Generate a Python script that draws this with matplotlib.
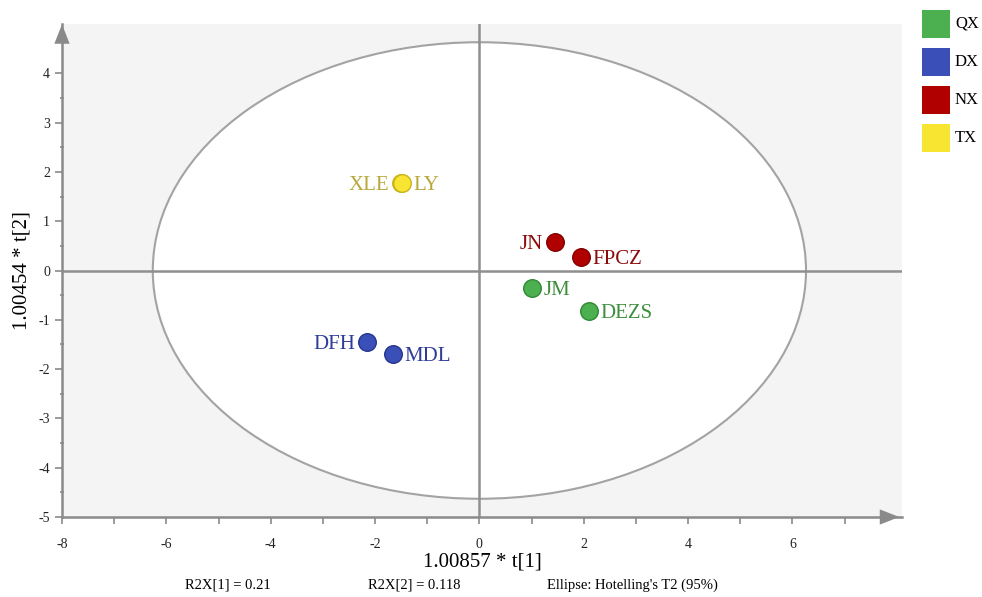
import matplotlib
matplotlib.use("Agg")
import matplotlib.pyplot as plt
from matplotlib.patches import Ellipse, Rectangle

plt.rcParams['font.family'] = ['Liberation Serif', 'DejaVu Serif']
plt.rcParams['axes.unicode_minus'] = False

# Score data (t[1], t[2]) per sample
names  = ['XLE', 'LY', 'JN', 'FPCZ', 'JM', 'DEZS', 'DFH', 'MDL']
groups = ['TX', 'TX', 'NX', 'NX', 'QX', 'QX', 'DX', 'DX']
t1     = [-1.50, -1.49, 1.44, 1.94, 1.01, 2.10, -2.15, -1.65]
t2     = [1.77, 1.78, 0.57, 0.28, -0.36, -0.83, -1.46, -1.70]
label_side = ['left', 'right', 'left', 'right', 'right', 'right', 'left', 'right']

group_order  = ['QX', 'DX', 'NX', 'TX']
marker_color = {'QX': '#4caf50', 'DX': '#3a4fb8', 'NX': '#b00000', 'TX': '#f7e531'}
edge_color   = {'QX': '#2f8a35', 'DX': '#27358f', 'NX': '#850000', 'TX': '#c9b51c'}
text_color   = {'QX': '#3d8f3d', 'DX': '#2f3d99', 'NX': '#8b0a0a', 'TX': '#b8a83a'}

# Hotelling's T2 (95%) ellipse semi-axes
ell_a, ell_b = 6.26, 4.63

r2x = [0.21, 0.118]

fig = plt.figure(figsize=(9.82, 5.97), dpi=100)
ax = fig.add_axes([62 / 982, 80 / 597, 840 / 982, 493 / 597])
ax.set_xlim(-8, 8.1)
ax.set_ylim(-5, 5)
ax.set_facecolor('#f4f4f4')

ax.add_patch(Ellipse((0, 0), 2 * ell_a, 2 * ell_b, facecolor='white',
                     edgecolor='#a3a3a3', linewidth=1.5, zorder=1))
ax.axhline(0, color='#8f8f8f', linewidth=1.8, zorder=2)
ax.axvline(0, color='#8f8f8f', linewidth=1.8, zorder=2)

for n, g, x, y, side in zip(names, groups, t1, t2, label_side):
    ax.scatter(x, y, s=160, color=marker_color[g], edgecolor=edge_color[g],
               linewidth=1.0, zorder=5)
    dx = 0.22 if side == 'right' else -0.22
    ax.text(x + dx, y - 0.05, n, color=text_color[g], fontsize=15,
            ha='left' if side == 'right' else 'right', va='center', zorder=6)

# Axes: only left and bottom, drawn as arrows
for s in ['top', 'right']:
    ax.spines[s].set_visible(False)
for s in ['left', 'bottom']:
    ax.spines[s].set_color('#8a8a8a')
    ax.spines[s].set_linewidth(1.8)
ax.annotate('', xy=(-8, 5.05), xytext=(-8, 4.4), xycoords='data',
            arrowprops=dict(arrowstyle='-|>,head_length=1.4,head_width=0.55',
                            color='#8a8a8a', lw=0), annotation_clip=False)
ax.annotate('', xy=(8.1, -5), xytext=(7.4, -5), xycoords='data',
            arrowprops=dict(arrowstyle='-|>,head_length=1.4,head_width=0.55',
                            color='#8a8a8a', lw=0), annotation_clip=False)

ax.set_xticks([-8, -6, -4, -2, 0, 2, 4, 6])
ax.set_xticks([-7, -5, -3, -1, 1, 3, 5, 7], minor=True)
ax.set_yticks(list(range(-5, 5)))
ax.set_yticks([v + 0.5 for v in range(-5, 4)], minor=True)
ax.tick_params(axis='both', which='major', color='#8a8a8a', width=1.2,
               length=5, labelsize=10, labelcolor='#222222')
ax.tick_params(axis='x', which='minor', color='#8a8a8a', width=1.2, length=5)
ax.tick_params(axis='y', which='minor', color='#8a8a8a', width=1.2, length=3,
               direction='inout')
ax.tick_params(axis='x', pad=10)

ax.set_xlabel('1.00857 * t[1]', fontsize=15, labelpad=1)
ax.set_ylabel('1.00454 * t[2]', fontsize=15, labelpad=5)

fig.text(228 / 982, 12 / 597, f'R2X[1] = {r2x[0]}', fontsize=10.5,
         ha='center', va='center')
fig.text(414 / 982, 12 / 597, f'R2X[2] = {r2x[1]}', fontsize=10.5,
         ha='center', va='center')
fig.text(632 / 982, 12 / 597, "Ellipse: Hotelling's T2 (95%)", fontsize=10.5,
         ha='center', va='center')

# Group legend as colour squares
for i, g in enumerate(group_order):
    top = 10 + 38 * i
    fig.patches.append(Rectangle((922 / 982, 1 - (top + 28) / 597), 28 / 982,
                                 28 / 597, transform=fig.transFigure,
                                 facecolor=marker_color[g], edgecolor='none'))
    fig.text(955 / 982, 1 - (top + 14) / 597, g, fontsize=12,
             ha='left', va='center')

fig.savefig('out.png', dpi=100)
